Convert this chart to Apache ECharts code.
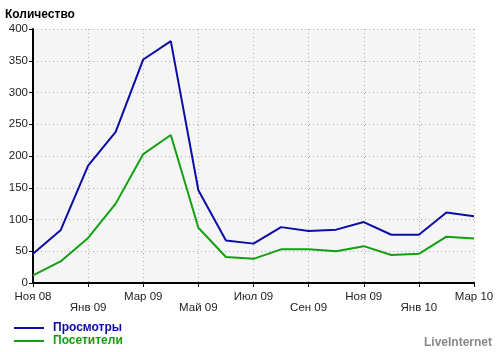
<!DOCTYPE html>
<html><head><meta charset="utf-8">
<script src="https://cdn.jsdelivr.net/npm/echarts@6/dist/echarts.min.js"></script>
<style>html,body{margin:0;padding:0;background:#fff}#c{width:500px;height:352px}</style>
</head><body><div id="c"></div>
<script>
const months = ['Ноя 08','Дек 08','Янв 09','Фев 09','Мар 09','Апр 09','Май 09','Июн 09','Июл 09','Авг 09','Сен 09','Окт 09','Ноя 09','Дек 09','Янв 10','Фев 10','Мар 10'];
const views = [46, 83, 185, 238, 352, 381, 146, 67, 62, 88, 82, 84, 96, 76, 76, 111, 105];
const visitors = [12, 34, 71, 125, 203, 233, 87, 41, 38, 53, 53, 50, 58, 44, 46, 73, 70];
const yTicks = [0, 50, 100, 150, 200, 250, 300, 350, 400];
const seriesNames = ['Просмотры', 'Посетители'];
const colors = ['#0c0ca6', '#12a012'];
const font = 'Liberation Sans, Arial, sans-serif';

const chart = echarts.init(document.getElementById('c'), null, {renderer: 'canvas'});
const legendFor = (i, top) => ({
  left: 14, top: top, itemWidth: 30, itemHeight: 2, icon: 'rect', padding: 0,
  data: [{name: seriesNames[i], textStyle: {color: colors[i], fontWeight: 'bold', fontSize: 12, fontFamily: font, padding: [0, 0, 0, 4]}}]
});
chart.setOption({
  animation: false,
  textStyle: {fontFamily: font},
  title: [{
    text: 'Количество', left: 0, top: 4,
    textStyle: {fontFamily: font, fontSize: 12, fontWeight: 'bold', color: '#000'}
  }, {
    text: 'LiveInternet', right: 3, bottom: -2,
    textStyle: {fontFamily: font, fontSize: 12, fontWeight: 'bold', color: '#8a8a8a'}
  }],
  grid: {left: 33, right: 26, top: 29, bottom: 69, show: true, backgroundColor: '#f5f5f5', borderWidth: 0},
  legend: [legendFor(0, 322), legendFor(1, 335)],
  xAxis: {
    type: 'category', data: months, boundaryGap: false,
    axisLine: {lineStyle: {color: '#000', width: 2}},
    axisTick: {interval: 1, length: 4, lineStyle: {color: '#000', width: 1}},
    axisLabel: {
      interval: 1, color: '#222', fontSize: 11.5, fontFamily: font, margin: 8, lineHeight: 11,
      formatter: (v, idx) => (idx / 2) % 2 === 1 ? '\n' + v : v
    },
    splitLine: {show: true, interval: 1, lineStyle: {color: '#b0b0b0', type: [1, 3], width: 1}}
  },
  yAxis: {
    type: 'value', min: yTicks[0], max: yTicks[yTicks.length - 1], interval: 50,
    axisLine: {show: true, lineStyle: {color: '#000', width: 2}},
    axisTick: {show: true, length: 4, lineStyle: {color: '#000'}},
    axisLabel: {color: '#222', fontSize: 11.5, fontFamily: font, margin: 5},
    splitLine: {show: true, lineStyle: {color: '#b0b0b0', type: [1, 3], width: 1}}
  },
  series: [
    {name: seriesNames[0], type: 'line', data: views, symbol: 'none', lineStyle: {color: colors[0], width: 2}, itemStyle: {color: colors[0]}},
    {name: seriesNames[1], type: 'line', data: visitors, symbol: 'none', lineStyle: {color: colors[1], width: 2}, itemStyle: {color: colors[1]}}
  ]
});
</script></body></html>
